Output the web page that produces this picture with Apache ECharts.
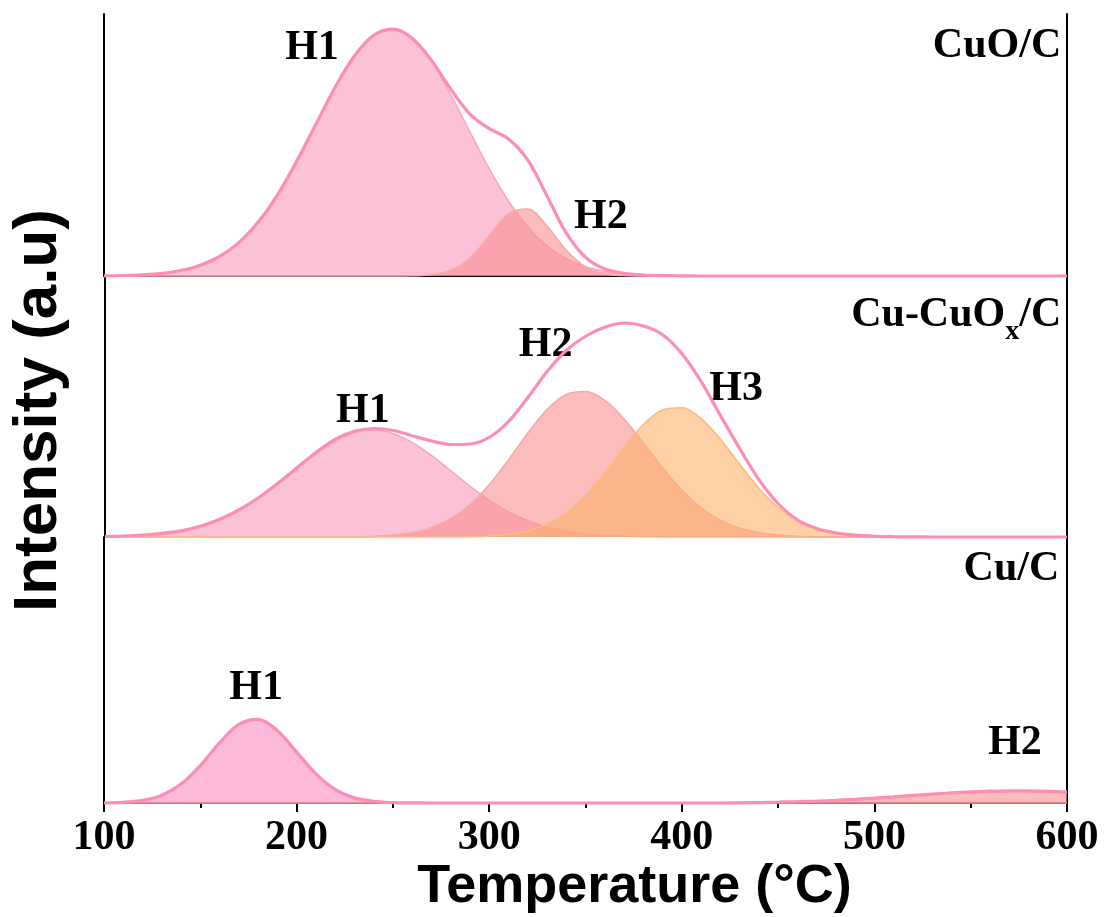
<!DOCTYPE html>
<html>
<head>
<meta charset="utf-8">
<script src="https://cdn.jsdelivr.net/npm/echarts@6/dist/echarts.min.js"></script>
<style>
html,body{margin:0;padding:0;background:#fff;}
#chart{width:1107px;height:917px;}
</style>
</head>
<body>
<div id="chart"></div>
<script>
// Temperature grid (°C)
const temps = [100,110,120,130,140,150,160,170,180,190,200,210,220,230,240,250,260,270,280,290,300,310,320,330,340,350,360,370,380,390,400,410,420,430,440,450,460,470,480,490,500,510,520,530,540,550,560,570,580,590,600];
const xTicks = [100,200,300,400,500,600];

// CuO/C panel
const cuoH1 = [0.2,0.5,1.2,2.6,5.5,10.7,19.5,33.4,53.7,80.9,114.4,151.7,188.7,220,240.7,246.9,237.6,214.4,181.5,144.1,107.3,75,49.1,30.2,17.4,9.4,4.8,2.3,1,0.4,0.2,0,0,0,0,0,0,0,0,0,0,0,0,0,0,0,0,0,0,0,0];
const cuoH2 = [0,0,0,0,0,0,0,0,0,0,0,0,0,0,0,0,0.2,1.2,5.5,17.8,40,62.1,66.9,49.9,25.7,9.2,2.3,0.4,0,0,0,0,0,0,0,0,0,0,0,0,0,0,0,0,0,0,0,0,0,0,0];
const cuoTotal = [0.2,0.5,1.2,2.6,5.5,10.7,19.5,33.4,53.7,80.9,114.4,151.7,188.7,220,240.7,246.9,237.8,215.6,187,161.9,147.3,137.1,116,80.1,43.1,18.6,7.1,2.7,1,0.4,0.2,0,0,0,0,0,0,0,0,0,0,0,0,0,0,0,0,0,0,0,0];

// Cu-CuOx/C panel
const cxH1 = [0.4,0.9,1.8,3.5,6.3,10.8,17.6,27,39.1,53.5,69,83.9,96.4,104.5,107,103.3,94.2,81.1,65.8,50.5,36.5,24.9,16.1,9.8,5.6,3,1.6,0.7,0.3,0.1,0,0,0,0,0,0,0,0,0,0,0,0,0,0,0,0,0,0,0,0,0];
const cxH2 = [0,0,0,0,0,0,0,0,0,0,0,0,0.1,0.3,0.8,1.9,4.5,9.6,18.6,32.9,53,77.9,104.5,127.9,142.8,145.5,136.3,117.6,93.6,68.6,46.4,28.9,16.6,8.8,4.3,1.9,0.8,0.3,0.1,0,0,0,0,0,0,0,0,0,0,0,0];
const cxH3 = [0,0,0,0,0,0,0,0,0,0,0,0,0,0,0,0,0,0,0,0.2,1,2.7,6.2,13,24.7,42.2,65,90.2,112.8,127.2,129.2,118.2,97.5,72.5,48.6,29.3,16,7.8,3.5,1.4,0.5,0.2,0,0,0,0,0,0,0,0,0];
const cxTotal = [0.5,1,2,3.6,6.4,11,18,27.5,39.5,54,69.5,85,98,106,108.5,106.5,101,96,92.5,93,100,116,140,166,187,201,210,214,211,202,183,155,121,88,57,33,17,8.5,4,1.8,0.7,0.3,0.1,0,0,0,0,0,0,0,0];

// Cu/C panel
const cH1 = [0.2,0.7,2.6,7.8,18.9,37.4,60.1,78.6,83.7,72.4,50.9,29.2,13.6,5.1,1.6,0.4,0.1,0,0,0,0,0,0,0,0,0,0,0,0,0,0,0,0,0,0,0,0,0,0,0,0,0,0,0,0,0,0,0,0,0,0];
const cH2 = [0,0,0,0,0,0,0,0,0,0,0,0,0,0,0,0,0,0,0,0,0,0,0,0,0,0,0,0,0,0,0,0,0,0.2,0.4,0.8,1.3,1.9,2.7,3.7,4.9,6.2,7.6,8.9,10.1,11.1,11.8,12.2,12.1,11.6,10.8];
const cTotal = [0.2,0.7,2.6,7.8,18.9,37.4,60.1,78.6,83.7,72.4,50.9,29.2,13.6,5.1,1.6,0.4,0.1,0,0,0,0,0,0,0,0,0,0,0,0,0,0,0,0,0.2,0.4,0.8,1.3,1.9,2.7,3.7,4.9,6.2,7.6,8.9,10.1,11.1,11.8,12.2,12.1,11.6,10.8];

// Annotation labels: [text, temperature, intensity, align]
const labelsTop = [['H1',208,228,'c'],['H2',358,59,'c'],['CuO/C',597,230,'r']];
const labelsMid = [['H1',234,126,'c'],['H2',329,192,'c'],['H3',428,148,'c'],['Cu-CuOx/C',597,222,'r']];
const labelsBot = [['H1',179,115,'c'],['H2',573,60,'c'],['Cu/C',596,234,'r']];

const pair = arr => temps.map((t, i) => [t, arr[i]]);
const SERIF = 'Liberation Serif, Times New Roman, serif';
const SANS = 'Liberation Sans, Arial, sans-serif';

const C_ENV = '#fd8db5';
const FILL = {
  h1: {fill:'#f898bb', line:'#f8a6c4'},
  h1b:{fill:'#fa8ac0', line:'#fd93bb'},
  h2: {fill:'#fa8f8f', line:'#f9a9a4'},
  h3: {fill:'#fcb169', line:'#fdb97e'}
};
const SMOOTH = 0.33;

function comp(arr, style, xi, yi, z) {
  return {
    type:'line', data: pair(arr), xAxisIndex: xi, yAxisIndex: yi,
    smooth: SMOOTH, showSymbol:false, clip:false, silent:true, z: z,
    lineStyle:{color: style.line, width: 1.5},
    areaStyle:{color: style.fill, opacity: 0.6}
  };
}
function mkLabels(list) {
  return list.map(([txt, t, v, al]) => {
    const lab = {show:true, position: al === 'r' ? 'left' : 'inside', distance: 0,
      fontFamily: SERIF, fontWeight:'bold', fontSize: 42, color:'#000'};
    if (txt === 'Cu-CuOx/C') {
      lab.formatter = '{a|Cu-CuO}{s|x}{a|/C}';
      lab.rich = {
        a:{fontFamily:SERIF, fontWeight:'bold', fontSize:42, color:'#000', verticalAlign:'top', lineHeight:42},
        s:{fontFamily:SERIF, fontWeight:'bold', fontSize:28, color:'#000', verticalAlign:'top', lineHeight:28, padding:[24,0,0,0]}
      };
    } else {
      lab.formatter = txt;
    }
    return {coord:[t, v], name: txt, label: lab};
  });
}
function env(arr, xi, yi, labels) {
  return {
    type:'line', data: pair(arr), xAxisIndex: xi, yAxisIndex: yi,
    smooth: SMOOTH, showSymbol:false, clip:false, silent:true, z: 10,
    lineStyle:{color: C_ENV, width: 3.2},
    markPoint:{symbol:'circle', symbolSize:0, silent:true, data: mkLabels(labels)}
  };
}

const frameLine = {show:true, lineStyle:{color:'#000', width:2}};
function yAx(g, min, max, pos, extra) {
  return Object.assign({type:'value', gridIndex:g, min:min, max:max, position:pos,
    axisLine: frameLine, axisTick:{show:false}, axisLabel:{show:false}, splitLine:{show:false}}, extra || {});
}

const option = {
  animation:false,
  backgroundColor:'#fff',
  grid:[
    {left:104, right:40, top:14, height:262},
    {left:104, right:40, top:276, height:261},
    {left:104, right:40, top:537, bottom:112}
  ],
  xAxis:[
    {type:'value', gridIndex:0, min:100, max:600, interval:100, position:'top',
     axisLine: frameLine, axisTick:{show:false}, axisLabel:{show:false}, splitLine:{show:false}},
    {type:'value', gridIndex:1, min:100, max:600, interval:100, show:false},
    {type:'value', gridIndex:2, min:100, max:600, interval:100, position:'bottom',
     axisLine: frameLine,
     axisTick:{show:true, length:9, lineStyle:{color:'#000', width:2}},
     minorTick:{show:true, splitNumber:2, length:5, lineStyle:{color:'#000', width:2}},
     splitLine:{show:false},
     axisLabel:{fontFamily:SERIF, fontWeight:'bold', fontSize:42, color:'#000', margin:12,
       formatter: v => xTicks.includes(v) ? String(v) : ''},
     name:'Temperature (°C)', nameLocation:'middle', nameGap:51,
     nameTextStyle:{fontFamily:SANS, fontWeight:'bold', fontSize:54, color:'#000', padding:[0,0,0,98]}}
  ],
  yAxis:[
    yAx(0, 0, 262, 'left'), yAx(0, 0, 262, 'right'),
    yAx(1, 0, 261, 'left', {name:'Intensity (a.u)', nameLocation:'middle', nameRotate:90, nameGap:35,
      nameTextStyle:{fontFamily:SANS, fontWeight:'bold', fontSize:62, color:'#000', padding:[0,8,0,0]}}),
    yAx(1, 0, 261, 'right'),
    yAx(2, -2, 266, 'left'), yAx(2, -2, 266, 'right')
  ],
  series:[
    comp(cuoH1, FILL.h1, 0, 0, 2),
    comp(cuoH2, FILL.h2, 0, 0, 3),
    env(cuoTotal, 0, 0, labelsTop),
    comp(cxH1, FILL.h1, 1, 2, 2),
    comp(cxH2, FILL.h2, 1, 2, 3),
    comp(cxH3, FILL.h3, 1, 2, 4),
    env(cxTotal, 1, 2, labelsMid),
    comp(cH1, FILL.h1b, 2, 4, 2),
    comp(cH2, FILL.h2, 2, 4, 3),
    env(cTotal, 2, 4, labelsBot)
  ]
};
const chart = echarts.init(document.getElementById('chart'), null, {renderer:'canvas'});
chart.setOption(option);
</script>
</body>
</html>
